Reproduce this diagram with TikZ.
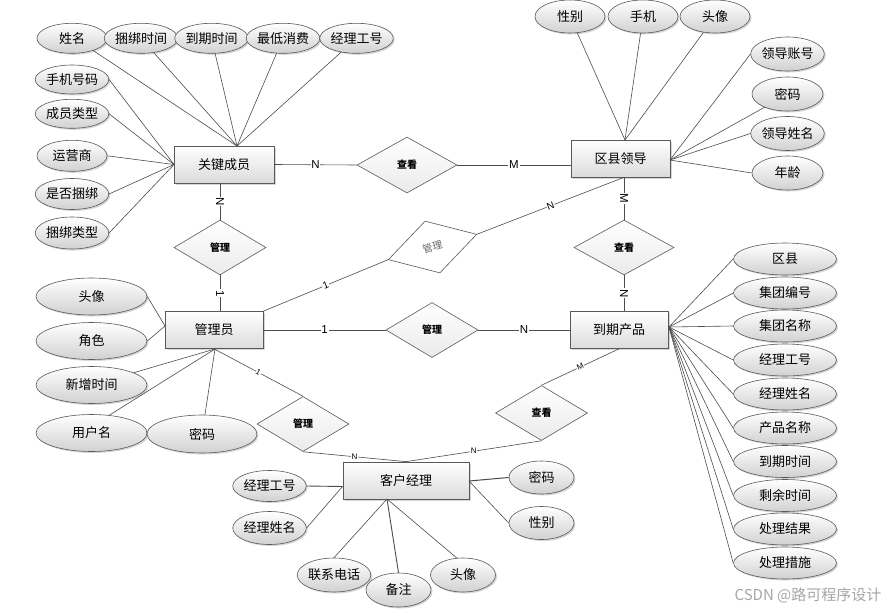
\documentclass[tikz,border=0pt]{standalone}
\usepackage{fontspec}
\setmainfont{Liberation Sans}
\newfontfamily\cjk{Noto Sans CJK SC}
\usetikzlibrary{shapes.geometric,shadows}
\begin{document}
\begin{tikzpicture}[x=1pt,y=-1pt,
  shad/.style={drop shadow={shadow xshift=1.5pt,shadow yshift=-1.5pt,opacity=0.35,fill=black!45}},
  ent/.style={rectangle,draw=black!65,line width=0.7pt,top color=white,bottom color=black!14,
    minimum width=98pt,minimum height=37pt,inner sep=0pt,shad,font=\cjk\fontsize{13}{13}\selectfont},
  attr/.style={ellipse,draw=black!65,line width=0.6pt,top color=white,bottom color=black!18,
    inner sep=0pt,shad,font=\cjk\fontsize{13}{13}\selectfont},
  rel/.style={diamond,draw=black!65,line width=0.6pt,top color=white,bottom color=black!8,
    minimum width=92pt,minimum height=55pt,inner sep=0pt,font=\cjk\bfseries\fontsize{10}{10}\selectfont},
  ln/.style={draw=black!70,line width=0.6pt},
  lab/.style={font=\fontsize{11.5}{11.5}\selectfont,fill=white,inner sep=0.8pt},
  labm/.style={font=\fontsize{10}{10}\selectfont,fill=white,inner sep=0.6pt},
  labs/.style={font=\fontsize{8}{8}\selectfont,fill=white,inner sep=0.5pt},
  kattr/.style={attr,minimum width=70pt,minimum height=30pt},
  lattr/.style={attr,minimum width=71pt,minimum height=34pt},
  gattr/.style={attr,minimum width=111pt,minimum height=37pt},
  cattr/.style={attr,minimum width=65pt,minimum height=33pt},
  dattr/.style={attr,minimum width=103pt,minimum height=32pt}
]
\useasboundingbox (0,0) rectangle (894,610);
\fill[white] (0,0) rectangle (894,610);

% ---------- entities ----------
\node[ent,minimum width=100pt] (gj) at (224,164.5) {关键成员};
\node[ent,minimum width=99pt] (ld) at (620.5,158.5) {区县领导};
\node[ent] (gly) at (214,330) {管理员};
\node[ent] (dq) at (619,330) {到期产品};
\node[ent,minimum width=126pt] (kh) at (406,480.5) {客户经理};

% ---------- relationships ----------
\node[rel,minimum width=100pt,minimum height=56pt] (ck1) at (407,165) {查看};
\node[rel] (gl1) at (220,247.5) {管理};
\node[diamond,draw=black!65,line width=0.6pt,fill=white,minimum width=92pt,minimum height=54pt,
      inner sep=0pt,rotate=16,font=\cjk\fontsize{10}{10}\selectfont,text=black!60] (gl4) at (432.5,247) {管理};
\node[rel,minimum width=100pt] (ck2) at (624,247.5) {查看};
\node[rel] (gl2) at (432,330) {管理};
\node[rel] (gl3) at (303,424) {管理};
\node[rel] (ck3) at (541.5,413) {查看};

% ---------- attributes of 关键成员 ----------
\node[kattr] (a1) at (72,38.3) {姓名};
\node[kattr,minimum width=58pt] (a2) at (141,38.3) {捆绑时间};
\node[kattr,minimum width=63pt] (a3) at (211.5,38.3) {到期时间};
\node[kattr] (a4) at (283,38.3) {最低消费};
\node[kattr,minimum width=71pt] (a5) at (356.5,38.3) {经理工号};
\node[kattr,minimum height=29pt] (a6) at (72,79.5) {手机号码};
\node[kattr,minimum height=29pt] (a7) at (72,113.8) {成员类型};
\node[kattr,minimum height=31pt] (a8) at (72,155.8) {运营商};
\node[kattr,minimum height=31pt] (a9) at (72,194) {是否捆绑};
\node[kattr,minimum height=32pt] (a10) at (72,233) {捆绑类型};
\coordinate (gjt) at (237,146);
\coordinate (gjl) at (174,164.5);
\draw[ln] (a1.-30) -- (gjt);
\draw[ln] (a2) -- (gjt);
\draw[ln] (a3) -- (gjt);
\draw[ln] (a4) -- (gjt);
\draw[ln] (a5) -- (gjt);
\foreach \n in {a6,a7,a8,a9,a10} \draw[ln] (\n.east) -- (gjl);

% ---------- attributes of 区县领导 ----------
\node[attr,minimum width=70pt,minimum height=33pt] (b1) at (570,16.5) {性别};
\node[attr,minimum width=70pt,minimum height=33pt] (b2) at (643,16.5) {手机};
\node[attr,minimum width=70pt,minimum height=33pt] (b3) at (715,16.5) {头像};
\node[lattr] (b4) at (787.5,54) {领导账号};
\node[lattr] (b5) at (787.5,94) {密码};
\node[lattr] (b6) at (787.5,133.5) {领导姓名};
\node[lattr] (b7) at (787.5,173) {年龄};
\coordinate (ldt) at (625,140);
\coordinate (ldr) at (670,160);
\draw[ln] (b1) -- (ldt);
\draw[ln] (b2) -- (ldt);
\draw[ln] (b3) -- (ldt);
\draw[ln] (b4.west) -- (ldr);
\draw[ln] (b5.210) -- (ldr);
\draw[ln] (b6.west) -- (ldr);
\draw[ln] (b7.west) -- (ldr);

% ---------- attributes of 管理员 ----------
\node[gattr] (c1) at (91.5,296.5) {头像};
\node[gattr] (c2) at (91.5,341) {角色};
\node[gattr] (c3) at (91.5,385) {新增时间};
\node[gattr] (c4) at (91.5,433) {用户名};
\node[gattr,minimum width=110pt,minimum height=38pt] (c5) at (202,434) {密码};
\coordinate (glyl) at (165,326);
\coordinate (glyb) at (215,349);
\draw[ln] (c1.east) -- (glyl);
\draw[ln] (c2.east) -- (glyl);
\draw[ln] (c3) -- (glyb);
\draw[ln] (c4.45) -- (glyb);
\draw[ln] (c5) -- (glyb);

% ---------- attributes of 客户经理 ----------
\node[cattr,minimum height=31pt] (d1) at (269.5,486) {经理工号};
\node[cattr] (d2) at (269.5,528) {经理姓名};
\node[cattr,minimum height=34pt] (d3) at (334,575) {联系电话};
\node[cattr,minimum height=34pt] (d4) at (398.5,590) {备注};
\node[cattr,minimum height=34pt] (d5) at (463,575) {头像};
\node[cattr] (d6) at (541.5,477.5) {密码};
\node[cattr] (d7) at (541.5,523) {性别};
\coordinate (khl) at (342.5,486.5);
\coordinate (khb) at (387,499);
\coordinate (khr) at (469,481);
\draw[ln,line width=0.9pt] (d1.east) -- (khl);
\draw[ln] (d2.east) -- (khl);
\draw[ln] (d3.north) -- (khb);
\draw[ln,line width=0.9pt] (d4.north) -- (khb);
\draw[ln] (d5.110) -- (khb);
\draw[ln,line width=1pt] (d6.west) -- (khr);
\draw[ln] (d7.west) -- (khr);

% ---------- attributes of 到期产品 ----------
\coordinate (dqr) at (669,327);
\foreach \t/\yy [count=\i] in {区县/259,集团编号/293,集团名称/326,经理工号/360,经理姓名/394,产品名称/428,到期时间/461.5,剩余时间/495.5,处理结果/529,处理措施/563}{
  \node[dattr] (e\i) at (785,\yy) {\t};
  \draw[ln] (e\i.west) -- (dqr);
}

% ---------- relationship connectors ----------
\draw[ln] (gj.east) -- node[lab] {N} (ck1.west);
\draw[ln] (ck1.east) -- node[lab] {M} (ck1.east -| ld.west);
\draw[ln] (gl1.north |- gj.south) -- node[lab,sloped] {N} (gl1.north);
\draw[ln] (gl1.south) -- node[lab,sloped] {1} (gl1.south |- gly.north);
\draw[ln] (gly.north east) -- node[labm,sloped] {1} (gl4.west);
\coordinate (ldb) at (ck2.north |- ld.south);
\draw[ln] (gl4.east) -- node[labm,sloped] {N} (ldb);
\draw[ln] (ldb) -- node[lab,sloped] {M} (ck2.north);
\draw[ln] (ck2.south) -- node[lab,sloped] {N} (ck2.south |- dq.north);
\draw[ln] (gly.east) -- node[lab] {1} (gl2.west);
\draw[ln] (gl2.east) -- node[lab] {N} (dq.west);
\draw[ln] (gly.south) -- node[labs,sloped] {1} (gl3.north);
\draw[ln] (gl3.south) -- node[labs] {N} (kh.north);
\draw[ln] (ck3.south) -- node[labs] {N} (kh.north);
\draw[ln] (dq.south) -- node[labs,sloped] {M} (ck3.north);

% ---------- watermark ----------
\node[font=\cjk\fontsize{15}{15}\selectfont,text=black!35,inner sep=0pt] (wm) at (808,595) {CSDN @路可程序设计};
\end{tikzpicture}
\end{document}
